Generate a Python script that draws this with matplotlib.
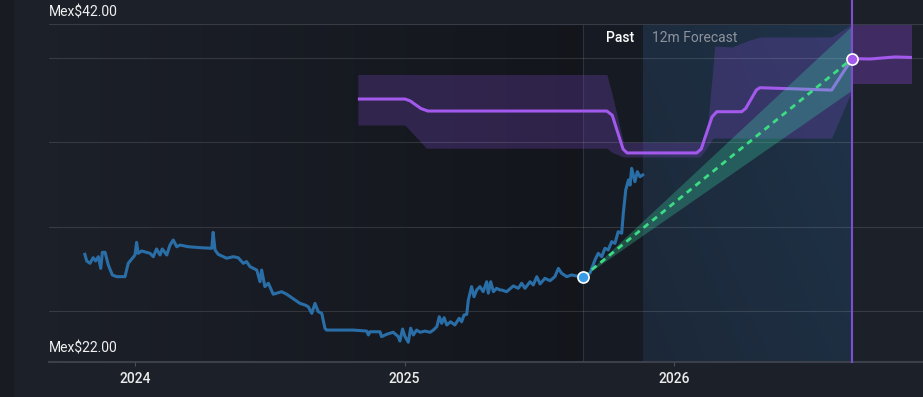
import matplotlib
matplotlib.use("Agg")
import matplotlib.pyplot as plt
import matplotlib.transforms as mtransforms
from matplotlib.colors import to_rgb
from matplotlib.patches import Rectangle
import numpy as np

plt.rcParams['font.family'] = ['Roboto', 'DejaVu Sans']

# share price history (decimal year, Mex$)
price_years = [2023.813, 2023.820, 2023.832, 2023.844, 2023.853, 2023.863, 2023.872, 2023.878,
               2023.888, 2023.900, 2023.915, 2023.931, 2023.962, 2023.974, 2023.989, 2023.999,
               2024.005, 2024.011, 2024.024, 2024.042, 2024.055, 2024.067, 2024.079, 2024.092,
               2024.100, 2024.117, 2024.129, 2024.141, 2024.154, 2024.166, 2024.197, 2024.246,
               2024.284, 2024.289, 2024.296, 2024.308, 2024.339, 2024.364, 2024.382, 2024.401,
               2024.413, 2024.426, 2024.451, 2024.463, 2024.469, 2024.481, 2024.494, 2024.512,
               2024.543, 2024.562, 2024.593, 2024.611, 2024.630, 2024.642, 2024.655, 2024.667,
               2024.679, 2024.692, 2024.704, 2024.710, 2024.760, 2024.809, 2024.859, 2024.865,
               2024.871, 2024.908, 2024.914, 2024.933, 2024.957, 2024.976, 2024.982, 2024.992,
               2025.001, 2025.013, 2025.022, 2025.032, 2025.044, 2025.057, 2025.075, 2025.094,
               2025.106, 2025.119, 2025.128, 2025.137, 2025.146, 2025.156, 2025.170, 2025.186,
               2025.202, 2025.211, 2025.220, 2025.230, 2025.236, 2025.248, 2025.257, 2025.267,
               2025.279, 2025.291, 2025.304, 2025.310, 2025.319, 2025.329, 2025.341, 2025.353,
               2025.360, 2025.378, 2025.403, 2025.421, 2025.434, 2025.446, 2025.465, 2025.477,
               2025.490, 2025.502, 2025.520, 2025.539, 2025.557, 2025.570, 2025.582, 2025.601,
               2025.619, 2025.638, 2025.662, 2025.687, 2025.706, 2025.718, 2025.731, 2025.743,
               2025.755, 2025.768, 2025.780, 2025.792, 2025.805, 2025.811, 2025.820, 2025.830,
               2025.836, 2025.842, 2025.854, 2025.863, 2025.873, 2025.883]
price_values = [28.37, 27.98, 27.84, 28.17, 27.98, 28.23, 27.54, 28.49,
                28.49, 27.74, 27.15, 27.05, 27.05, 27.84, 28.14, 28.33,
                29.08, 28.43, 28.57, 28.49, 28.43, 28.23, 28.69, 28.33,
                28.69, 28.33, 28.92, 29.22, 28.82, 28.92, 28.82, 28.76,
                28.73, 29.67, 28.63, 28.37, 28.14, 28.23, 28.17, 27.84,
                27.94, 27.64, 27.44, 26.75, 27.44, 26.46, 26.66, 26.01,
                26.16, 26.01, 25.67, 25.47, 25.37, 25.27, 24.88, 25.47,
                24.98, 24.88, 23.99, 23.89, 23.89, 23.89, 23.83, 23.60,
                23.79, 23.79, 23.50, 23.64, 23.76, 23.50, 23.24, 23.95,
                23.50, 23.17, 24.00, 23.60, 23.89, 23.76, 23.83, 23.76,
                23.89, 24.09, 24.68, 24.29, 24.62, 24.19, 24.38, 24.19,
                24.59, 24.38, 24.78, 24.82, 25.67, 26.46, 25.86, 26.26,
                26.46, 26.16, 26.75, 26.07, 26.75, 26.16, 26.36, 26.26,
                26.26, 26.16, 26.50, 26.36, 26.66, 26.36, 26.75, 26.56,
                27.05, 26.62, 26.95, 26.81, 27.05, 27.54, 27.25, 27.05,
                27.15, 27.09, 27.05, 27.25, 28.04, 28.43, 28.23, 28.73,
                28.63, 29.12, 29.02, 29.71, 29.62, 30.80, 32.18, 32.77,
                32.47, 33.46, 32.67, 33.26, 32.96, 33.07]

# analyst price target path
target_years = [2024.826, 2025.001, 2025.020, 2025.060, 2025.086, 2025.750, 2025.770,
                2025.810, 2025.825, 2026.083, 2026.100, 2026.140, 2026.158, 2026.250,
                2026.265, 2026.305, 2026.318, 2026.584, 2026.660, 2026.727, 2026.819, 2026.882]
target_values = [37.56, 37.56, 37.45, 37.00, 36.85, 36.85, 36.60,
                 34.60, 34.37, 34.37, 34.60, 36.50, 36.81, 36.81,
                 37.00, 38.10, 38.23, 38.09, 39.95, 39.93, 40.05, 40.02]

# analyst range band
band_years = [2024.826, 2025.001, 2025.080, 2025.750, 2025.770, 2025.812, 2026.083,
              2026.095, 2026.118, 2026.144, 2026.150, 2026.215, 2026.280, 2026.318,
              2026.584, 2026.660]
band_high = [39.01, 39.01, 39.01, 39.01, 37.80, 35.00, 35.00,
             35.00, 35.00, 39.50, 40.70, 40.64, 41.05, 41.23,
             41.23, 42.00]
band_low = [36.02, 36.02, 34.65, 34.65, 34.40, 34.13, 34.13,
            34.13, 34.60, 35.25, 35.25, 35.25, 35.25, 35.25,
            35.25, 38.10]

# range after the 12m mark
after_years = [2026.660, 2026.882]
after_high = [42.00, 42.00]
after_low = [38.46, 38.46]

# 12m forecast cone
past_year = 2025.662
past_price = 27.05
today_year = 2025.883
end_year = 2026.660
end_mid = 39.95
end_high = 41.90
end_low = 38.10

x_ticks = [2024, 2025, 2026]
x_labels = ['2024', '2025', '2026']
grid_levels = [25, 30, 35, 40]
y_min, y_max = 22, 42

bg = '#1c2029'
fig = plt.figure(figsize=(9.23, 3.97), dpi=100, facecolor=bg)
fig.add_artist(Rectangle((0, 0), 13 / 923, 1, transform=fig.transFigure, color='#181b22', zorder=0))
ax = fig.add_axes([49 / 923, 35 / 397, 874 / 923, 338 / 397])
ax.set_facecolor(bg)
x_lo, x_hi = 2023.680, 2026.923

# darkening over the past
grad = np.zeros((2, 256, 4))
grad[..., 3] = np.linspace(0, 0.33, 256)
ax.imshow(grad, extent=[x_lo, past_year, y_min, y_max], aspect='auto', origin='lower', zorder=0.2)
ax.axvspan(past_year, today_year, color='#161b23', zorder=0.3, lw=0)

# forecast region gradient
c0 = np.array(to_rgb('#1c2838'))
c1 = np.array(to_rgb('#1f3349'))
xx = np.linspace(0, 1, 200)[None, :]
yy = np.linspace(1, 0, 100)[:, None]
t = np.clip(0.6 * xx + 0.4 * yy, 0, 1)[..., None]
fimg = c0 * (1 - t) + c1 * t
ax.imshow(fimg, extent=[today_year, end_year, y_min, y_max], aspect='auto', origin='upper', zorder=0.3)

ax.set_xlim(x_lo, x_hi)
ax.set_ylim(y_min, y_max)

ax.set_yticks(grid_levels)
ax.grid(axis='y', color='white', alpha=0.12, lw=0.8, zorder=1)
ax.set_axisbelow(False)
ax.tick_params(axis='y', left=False, labelleft=False)
ax.set_xticks(x_ticks)
ax.set_xticklabels(x_labels, fontweight='medium')
ax.tick_params(axis='x', colors='#4a505a', length=3, width=0.8, pad=4.5,
               labelcolor='#ececec', labelsize=10)
for s in ['left', 'right']:
    ax.spines[s].set_visible(False)
ax.spines['top'].set_color('#363b45')
ax.spines['top'].set_linewidth(0.8)
ax.spines['bottom'].set_color('#3b404a')
ax.spines['bottom'].set_linewidth(1.5)

ax.axvline(past_year, color='#2a323d', lw=0.8, zorder=1.2)

# analyst bands
ax.fill_between(band_years, band_low, band_high, color='#8a4fe0', alpha=0.24, lw=0, zorder=2)
ax.fill_between(after_years, after_low, after_high, color='#8a45d8', alpha=0.33, lw=0, zorder=2)

ax.plot(target_years, target_values, color='#a259ec', lw=2.2, solid_capstyle='butt', zorder=3)
ax.plot(price_years, price_values, color='#2a6ea8', lw=2.2, solid_joinstyle='round', zorder=3)

# cone + dashed forecast
ax.fill_between([past_year, end_year], [past_price, end_low], [past_price, end_high],
                color='#3ddcaa', alpha=0.28, lw=0, zorder=4)
ax.plot([past_year, end_year], [past_price, end_mid], color='#3ddc84', lw=2,
        dashes=(2.2, 1.8), zorder=5)

ax.axvline(end_year, ymin=0, ymax=1 + 24 / 338, color='#7d4fd0', lw=1.5, clip_on=False, zorder=4.5)

ax.plot([past_year], [past_price], 'o', ms=8, mfc='#3a9be6', mec='white', mew=1.2, zorder=6)
ax.plot([end_year], [end_mid], 'o', ms=8, mfc='#a259ec', mec='white', mew=1.2, zorder=6)

# labels
fig.text(49 / 923, 1 - 12 / 397, 'Mex$42.00', color='#f0f0f0', fontsize=10, va='center', ha='left')
fig.text(49 / 923, 1 - 348 / 397, 'Mex$22.00', color='#f0f0f0', fontsize=10, va='center', ha='left')

tr = mtransforms.blended_transform_factory(ax.transData, ax.transAxes)
ax.text(today_year, 0.9586, 'Past', color='#ffffff', fontsize=10, fontweight='medium', va='center',
        ha='right', transform=mtransforms.offset_copy(tr, fig=fig, x=-9, y=0, units='dots'), zorder=7)
ax.text(today_year, 0.9586, '12m Forecast', color='#8d939d', fontsize=10, va='center', ha='left',
        transform=mtransforms.offset_copy(tr, fig=fig, x=9, y=0, units='dots'), zorder=7)

fig.savefig('out.png', dpi=100, facecolor=bg)
